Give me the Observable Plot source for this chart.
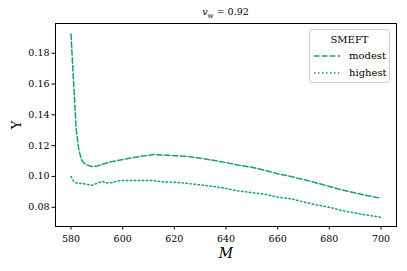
<!DOCTYPE html>
<html>
<head>
<meta charset="utf-8">
<script src="https://cdn.jsdelivr.net/npm/d3@7"></script>
<script src="https://cdn.jsdelivr.net/npm/@observablehq/plot@0.6"></script>
<style>
  html, body { margin: 0; padding: 0; background: white; }
  #wrap { position: relative; width: 407px; height: 271px; font-family: "DejaVu Serif", serif; color: black; }
  #title { position: absolute; left: 0; width: 451px; top: 6px; text-align: center; font-size: 9.5px; line-height: 12px; }
  #legend { position: absolute; left: 309px; top: 29px; width: 81px; height: 54px; box-sizing: border-box;
            border: 1px solid #d0d0d0; border-radius: 3px; background: rgba(255,255,255,0.85); font-size: 10px; }
  #legend .t { position: absolute; left: 0; width: 100%; text-align: center; top: 3px; line-height: 13px; }
  #legend .row { position: absolute; left: 3px; height: 13px; line-height: 13px; }
  #legend .row svg { position: absolute; left: 0; top: 1.5px; }
  #legend .row span { position: absolute; left: 36px; top: 0; white-space: nowrap; }
</style>
</head>
<body>
<div id="wrap">
  <div id="title"><i>v</i><sub style="font-size:7px;"><i>w</i></sub> = 0.92</div>
</div>
<script>
const color = "#1b9e77";
const seriesNames = ["modest", "highest"];
const dashes = ["5.5,2.4", "1.5,2.5"];
const legendTitle = "SMEFT";
const xTicks = [580, 600, 620, 640, 660, 680, 700];
const yTicks = [0.08, 0.10, 0.12, 0.14, 0.16, 0.18];

const modestM = [580, 581, 582, 583, 584, 585, 586, 588, 590, 592, 595, 600, 605, 610, 612, 615, 620, 625, 630, 635, 640, 645, 650, 655, 660, 665, 670, 675, 680, 685, 690, 695, 700];
const modestY = [0.1925, 0.161, 0.131, 0.1175, 0.111, 0.1088, 0.1075, 0.1065, 0.1067, 0.1078, 0.1093, 0.1110, 0.1125, 0.1138, 0.1142, 0.1140, 0.1135, 0.1130, 0.1118, 0.1105, 0.1090, 0.1073, 0.1060, 0.1040, 0.1018, 0.1000, 0.0980, 0.0958, 0.0935, 0.0912, 0.0893, 0.0875, 0.0858];

const highestM = [580, 581, 582, 584, 586, 588, 590, 592, 594, 596, 598, 600, 605, 610, 612, 615, 620, 625, 630, 635, 640, 645, 650, 655, 660, 665, 670, 675, 680, 685, 690, 695, 700];
const highestY = [0.1000, 0.0970, 0.0958, 0.0954, 0.0950, 0.0942, 0.0955, 0.0968, 0.0958, 0.0960, 0.0972, 0.0974, 0.0974, 0.0974, 0.0973, 0.0965, 0.0963, 0.0955, 0.0945, 0.0935, 0.0922, 0.0906, 0.0895, 0.0885, 0.0866, 0.0855, 0.0835, 0.0815, 0.0800, 0.0778, 0.0762, 0.0748, 0.0735];

const modest = modestM.map((m, i) => ({M: m, v: modestY[i]}));
const highest = highestM.map((m, i) => ({M: m, v: highestY[i]}));

const chart = Plot.plot({
  width: 407,
  height: 271,
  marginLeft: 55,
  marginRight: 11,
  marginTop: 23,
  marginBottom: 45,
  style: { fontFamily: "'DejaVu Serif', serif", fontSize: "9.5px", color: "black", background: "white" },
  x: { domain: [574, 706] },
  y: { domain: [0.0675, 0.1993] },
  marks: [
    Plot.axisX({ ticks: xTicks, tickFormat: d => String(d), tickSize: 3.5, tickPadding: 5, label: null, fontSize: 9.5 }),
    Plot.axisY({ ticks: yTicks, tickFormat: d3.format(".2f"), tickSize: 3.5, tickPadding: 2.5, label: null, fontSize: 9.5 }),
    Plot.line(modest, { x: "M", y: "v", stroke: color, strokeWidth: 1.5, strokeDasharray: dashes[0] }),
    Plot.line(highest, { x: "M", y: "v", stroke: color, strokeWidth: 1.5, strokeDasharray: dashes[1] }),
    Plot.frame({ stroke: "black", strokeWidth: 1 }),
    Plot.text(["M"], { frameAnchor: "bottom", lineAnchor: "middle", dy: 27, fontStyle: "italic", fontSize: 14 }),
    Plot.text(["Υ"], { frameAnchor: "left", textAnchor: "middle", lineAnchor: "middle", dx: -39, rotate: -90, fontSize: 13 })
  ]
});

const wrap = document.getElementById("wrap");
wrap.insertBefore(chart, wrap.firstChild);

// legend
const leg = document.createElement("div");
leg.id = "legend";
const t = document.createElement("div");
t.className = "t";
t.textContent = legendTitle;
leg.appendChild(t);
seriesNames.forEach((name, i) => {
  const row = document.createElement("div");
  row.className = "row";
  row.style.top = (19 + i * 17) + "px";
  row.innerHTML = `<svg width="30" height="10"><line x1="1" x2="27" y1="5" y2="5" stroke="${color}" stroke-width="1.5" stroke-dasharray="${dashes[i]}"/></svg><span>${name}</span>`;
  leg.appendChild(row);
});
wrap.appendChild(leg);
</script>
</body>
</html>
